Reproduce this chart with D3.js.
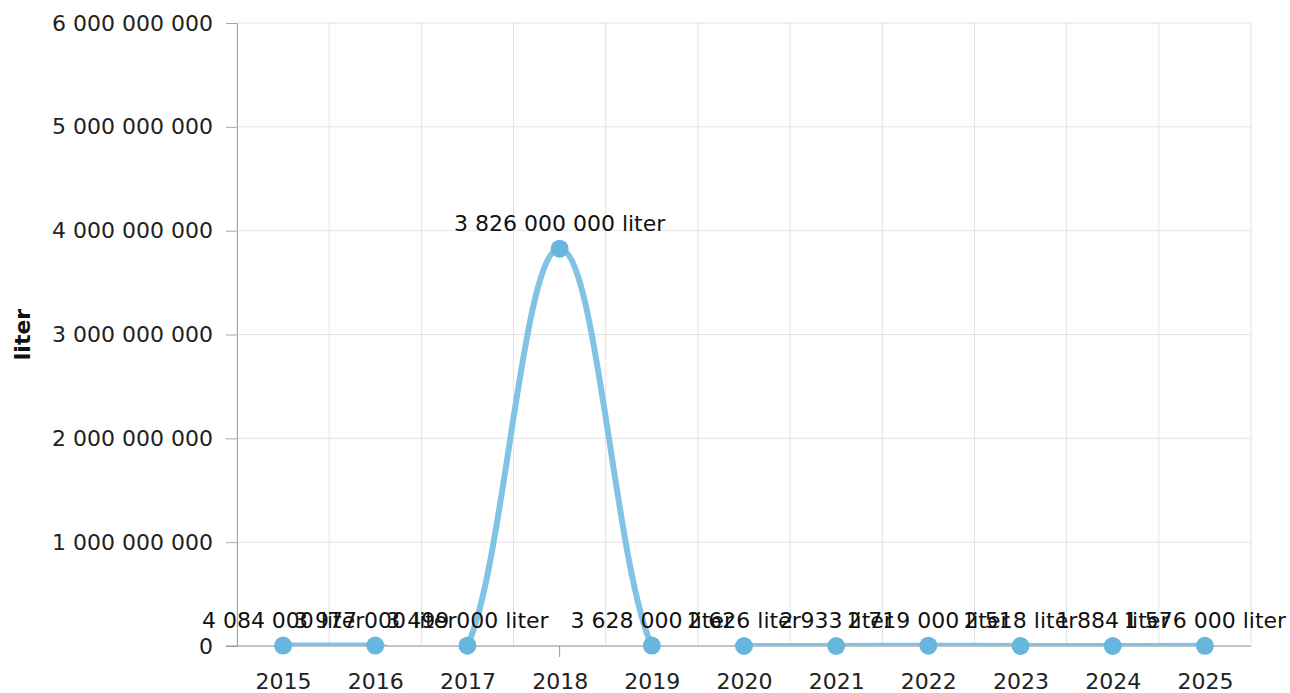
<!DOCTYPE html>
<html>
<head>
<meta charset="utf-8">
<script src="https://cdn.jsdelivr.net/npm/d3@7/dist/d3.min.js"></script>
<style>
html,body{margin:0;padding:0;background:#fff;}
svg{display:block;font-family:"DejaVu Sans",Verdana,sans-serif;}
</style>
</head>
<body>
<svg id="chart" width="1290" height="693"></svg>
<script>
const years = ["2015","2016","2017","2018","2019","2020","2021","2022","2023","2024","2025"];
const values = [4084000, 3977000, 3499000, 3826000000, 3628000, 2626, 2933, 2719000, 2518, 1884, 1576000];
const yTicks = [0, 1000000000, 2000000000, 3000000000, 4000000000, 5000000000, 6000000000];
const unit = "liter";

const m = {left: 237, right: 1251, top: 23, bottom: 646};
const svg = d3.select("#chart");
const fs = 22;

const x = d3.scalePoint().domain(years).range([m.left, m.right]).padding(0.5);
const y = d3.scaleLinear().domain([0, 6000000000]).range([m.bottom, m.top]);
const step = x.step();

const fmt = v => d3.format(",")(v).replace(/,/g, " ");

// horizontal grid
svg.append("g").selectAll("line").data(yTicks).join("line")
  .attr("x1", m.left).attr("x2", m.right)
  .attr("y1", d => y(d)).attr("y2", d => y(d))
  .attr("stroke", "#e3e3e3").attr("stroke-width", 1);

// vertical grid at category boundaries
const bounds = d3.range(years.length + 1).map(i => m.left + i * step);
svg.append("g").selectAll("line").data(bounds).join("line")
  .attr("x1", d => d).attr("x2", d => d)
  .attr("y1", m.top).attr("y2", m.bottom)
  .attr("stroke", "#e3e3e3").attr("stroke-width", 1);

// y axis
const yAxis = d3.axisLeft(y).tickValues(yTicks).tickSize(11).tickPadding(13).tickFormat(fmt);
const gy = svg.append("g").attr("transform", `translate(${m.left},0)`).call(yAxis);
gy.select(".domain").attr("stroke", "#a6a6a6");
gy.selectAll(".tick line").attr("stroke", "#a6a6a6");
gy.selectAll(".tick text").attr("font-size", fs).attr("fill", "#222").attr("font-family", "DejaVu Sans");

// x axis
const xAxis = d3.axisBottom(x).tickSize(0).tickPadding(27);
const gx = svg.append("g").attr("transform", `translate(0,${m.bottom})`).call(xAxis);
gx.select(".domain").attr("d", `M${m.left - 11},0H${m.right}`).attr("stroke", "#999");
gx.selectAll(".tick text").attr("font-size", fs).attr("fill", "#222").attr("font-family", "DejaVu Sans");
gx.append("line").attr("x1", x("2018")).attr("x2", x("2018")).attr("y1", 0).attr("y2", 11)
  .attr("stroke", "#999");

// y title
svg.append("text")
  .attr("transform", `translate(30,${(m.top + m.bottom) / 2}) rotate(-90)`)
  .attr("text-anchor", "middle")
  .attr("font-size", fs).attr("font-weight", "bold").attr("fill", "#111")
  .text(unit);

// clip
svg.append("clipPath").attr("id", "plotclip").append("rect")
  .attr("x", m.left).attr("y", m.top).attr("width", m.right - m.left).attr("height", m.bottom - m.top);

const pts = years.map((yr, i) => ({yr, v: values[i]}));
const line = d3.line().x(d => x(d.yr)).y(d => y(d.v)).curve(d3.curveCardinal.tension(-0.2));
svg.append("path").datum(pts)
  .attr("clip-path", "url(#plotclip)")
  .attr("d", line).attr("fill", "none")
  .attr("stroke", "#80c3e5").attr("stroke-width", 6)
  .attr("stroke-linejoin", "round").attr("stroke-linecap", "round");

svg.append("g").selectAll("circle").data(pts).join("circle")
  .attr("cx", d => x(d.yr)).attr("cy", d => y(d.v)).attr("r", 9)
  .attr("fill", "#66b6de");

svg.append("g").selectAll("text").data(pts).join("text")
  .attr("x", d => x(d.yr)).attr("y", d => y(d.v) - 18)
  .attr("text-anchor", "middle").attr("font-size", fs).attr("fill", "#111")
  .text(d => fmt(d.v) + " " + unit);
</script>
</body>
</html>
